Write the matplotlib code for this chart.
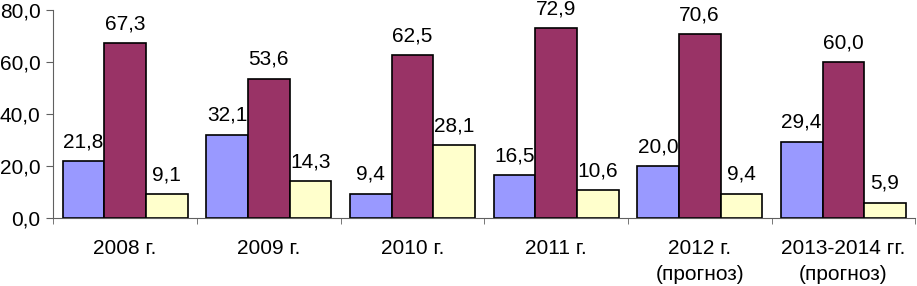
import matplotlib
matplotlib.use("Agg")
import matplotlib.pyplot as plt
import numpy as np

categories = ["2008 г.", "2009 г.", "2010 г.", "2011 г.", "2012 г.\n(прогноз)", "2013-2014 гг.\n(прогноз)"]
series1 = [21.8, 32.1, 9.4, 16.5, 20.0, 29.4]
series2 = [67.3, 53.6, 62.5, 72.9, 70.6, 60.0]
series3 = [9.1, 14.3, 28.1, 10.6, 9.4, 5.9]
colors = ["#9999FF", "#993366", "#FFFFCC"]

plt.rcParams['font.family'] = ['Liberation Sans', 'DejaVu Sans']
fs = 15

fig = plt.figure(figsize=(9.17, 2.86), dpi=100)
ax = fig.add_axes([0.058, 0.238, 0.940, 0.727])

x = np.arange(len(categories))
w = 0.29
for i, (vals, c) in enumerate(zip([series1, series2, series3], colors)):
    pos = x + (i - 1) * w
    ax.bar(pos, vals, width=w, color=c, edgecolor="black", linewidth=1.2)
    for p, v in zip(pos, vals):
        ax.annotate(f"{v:.1f}".replace(".", ","), (p, v), xytext=(0, 7),
                    textcoords="offset points", ha="center", va="bottom", fontsize=fs)

ax.set_xlim(-0.5, len(categories) - 0.5)
ax.set_ylim(0, 80)
ax.set_yticks(np.arange(0, 81, 20))
ax.set_yticklabels([f"{v:.1f}".replace(".", ",") for v in np.arange(0, 81, 20)], fontsize=fs)
ax.set_xticks(x)
ax.set_xticklabels(categories, fontsize=fs, linespacing=1.45)
ax.set_xticks(np.arange(-0.5, len(categories)), minor=True)
ax.tick_params(axis="x", which="major", length=0, pad=15)
ax.tick_params(axis="x", which="minor", length=4, color="#606060")
ax.tick_params(axis="y", length=5, color="#606060", pad=4)
for s in ["top", "right"]:
    ax.spines[s].set_visible(False)
for s in ["left", "bottom"]:
    ax.spines[s].set_color("#606060")

fig.savefig("out.png", dpi=100)
